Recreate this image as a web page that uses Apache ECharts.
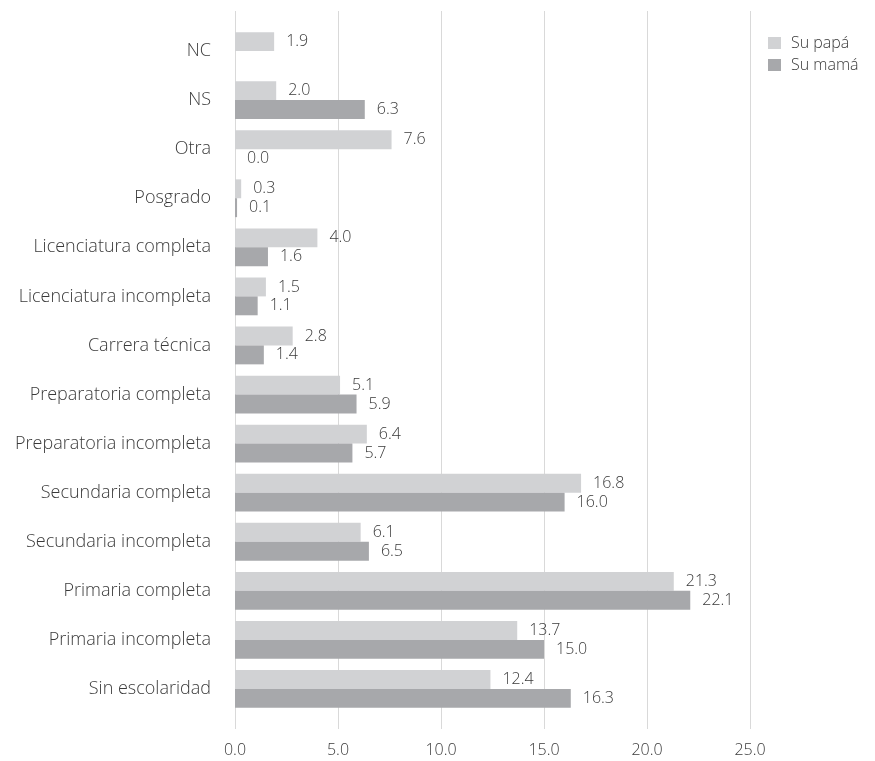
<!DOCTYPE html>
<html>
<head>
<meta charset="utf-8">
<script src="https://cdn.jsdelivr.net/npm/echarts@6/dist/echarts.min.js"></script>
<style>
  html, body { margin: 0; padding: 0; background: #fff; }
  #chart { width: 875px; height: 761px; }
</style>
</head>
<body>
<div id="chart"></div>
<script>
// categories, top to bottom
const categories = [
  "NC", "NS", "Otra", "Posgrado", "Licenciatura completa",
  "Licenciatura incompleta", "Carrera técnica", "Preparatoria completa",
  "Preparatoria incompleta", "Secundaria completa", "Secundaria incompleta",
  "Primaria completa", "Primaria incompleta", "Sin escolaridad"
];
const papa = [1.9, 2.0, 7.6, 0.3, 4.0, 1.5, 2.8, 5.1, 6.4, 16.8, 6.1, 21.3, 13.7, 12.4];
const mama = ["-", 6.3, 0.0, 0.1, 1.6, 1.1, 1.4, 5.9, 5.7, 16.0, 6.5, 22.1, 15.0, 16.3];
const seriesNames = ["Su papá", "Su mamá"];
const xTicks = [0, 5, 10, 15, 20, 25];

const font = "Open Sans";
const fontWeight = 300;
const fontSize = 16;
const textColor = "#3a3a3a";

const chart = echarts.init(document.getElementById("chart"));

const valueLabel = {
  show: true,
  position: "right",
  distance: 12,
  color: textColor,
  fontFamily: font,
  fontWeight: fontWeight,
  fontSize: fontSize,
  formatter: (p) => Number(p.value).toFixed(1),
};

chart.setOption({
  animation: false,
  textStyle: { fontFamily: font },
  legend: {
    orient: "vertical",
    left: 768,
    top: 35,
    padding: 0,
    itemWidth: 13,
    itemHeight: 12,
    itemGap: 6,
    icon: "rect",
    data: seriesNames,
    textStyle: {
      color: textColor,
      fontSize: fontSize,
      fontFamily: font,
      fontWeight: fontWeight,
      padding: [0, 0, 0, 5],
    },
  },
  grid: [
    // gridlines + tick labels (taller than the bar area)
    { left: 235, right: 125, top: 11, bottom: 32 },
    // bars
    { left: 235, right: 125, top: 26.5, bottom: 47.5 },
  ],
  xAxis: [
    {
      gridIndex: 0,
      type: "value",
      min: xTicks[0],
      max: xTicks[xTicks.length - 1],
      interval: 5,
      axisLine: { show: false },
      axisTick: { show: false },
      axisLabel: {
        color: textColor,
        fontSize: fontSize,
        fontFamily: font,
        fontWeight: fontWeight,
        margin: 13,
        formatter: (v) => v.toFixed(1),
      },
      splitLine: { lineStyle: { color: "#d9d9d9", width: 1 } },
    },
    {
      gridIndex: 1,
      type: "value",
      min: xTicks[0],
      max: xTicks[xTicks.length - 1],
      interval: 5,
      show: false,
      splitLine: { show: false },
    },
  ],
  yAxis: [
    { gridIndex: 0, type: "value", show: false, min: 0, max: 1 },
    {
      gridIndex: 1,
      type: "category",
      inverse: true,
      data: categories,
      axisLine: { show: false },
      axisTick: { show: false },
      axisLabel: {
        color: textColor,
        fontSize: 18,
        fontFamily: font,
        fontWeight: fontWeight,
        margin: 24,
      },
    },
  ],
  series: [
    {
      name: seriesNames[0],
      type: "bar",
      xAxisIndex: 1,
      yAxisIndex: 1,
      data: papa,
      barGap: "0%",
      barCategoryGap: "23%",
      itemStyle: { color: "#d1d2d4" },
      label: valueLabel,
    },
    {
      name: seriesNames[1],
      type: "bar",
      xAxisIndex: 1,
      yAxisIndex: 1,
      data: mama,
      barGap: "0%",
      barCategoryGap: "23%",
      itemStyle: { color: "#a7a8ab" },
      label: valueLabel,
    },
  ],
});
</script>
</body>
</html>
